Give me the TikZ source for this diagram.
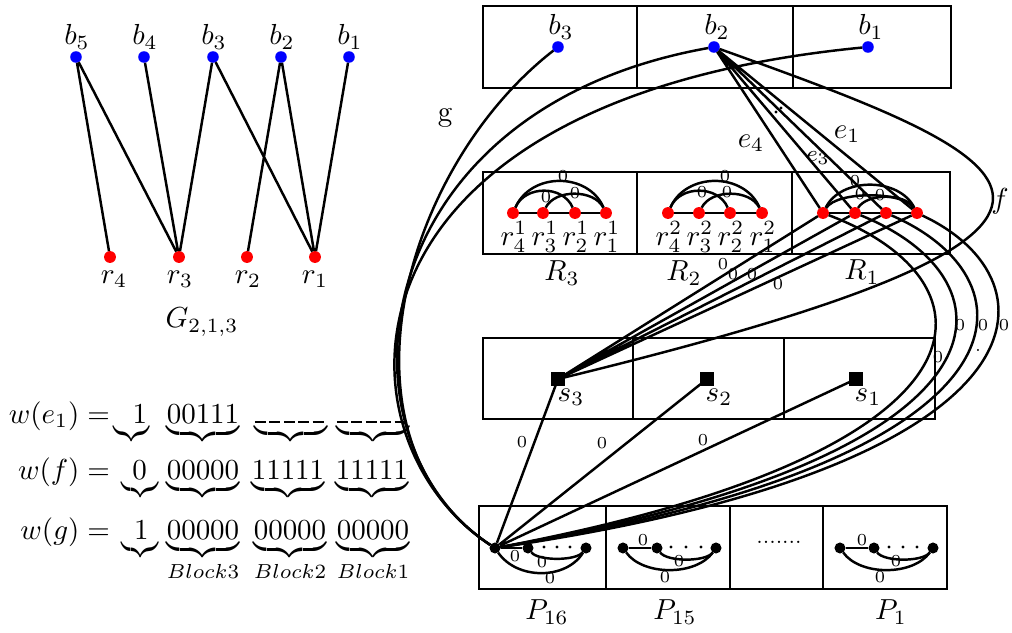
\documentclass[tikz,border=0pt]{standalone}
\usepackage{graphicx}
\newcommand{\dsh}{\rule{0.38em}{0.07em}\hspace{0.12em}}
\newcommand{\shortbrace}[2]{\rlap{\hspace{#1}$#2$}\scalebox{0.7}[1]{$\underbrace{\hspace{1.8em}}$}}
\begin{document}
\begin{tikzpicture}[x=0.345pt,y=-0.345pt,
  every node/.style={font=\fontsize{10}{12}\selectfont, inner sep=0pt, outer sep=0pt},
  ln/.style={line width=0.85pt},
  boxline/.style={line width=0.85pt},
  bdot/.style={circle, fill=blue, minimum size=4pt},
  rdot/.style={circle, fill=red, minimum size=4.1pt},
  kdot/.style={circle, fill=black, minimum size=3.8pt},
  sq/.style={rectangle, fill=black, minimum size=4.5pt},
  zl/.style={font=\fontsize{5.8}{7}\selectfont},
  smalldot/.style={circle, fill=black, minimum size=1.2pt},
]
\useasboundingbox (0,0) rectangle (1012,633);

% ---------------- left graph G_{2,1,3}
\node[bdot] (b5) at (76,57) {};
\node[bdot] (b4) at (144,57) {};
\node[bdot] (b3) at (213,57) {};
\node[bdot] (b2) at (281,57) {};
\node[bdot] (b1) at (349,57) {};
\node[rdot] (r4) at (110,257) {};
\node[rdot] (r3) at (179,257) {};
\node[rdot] (r2) at (247,257) {};
\node[rdot] (r1) at (315,257) {};
\node (lb5) at (77,37) {$b_5$};
\node (lb4) at (145,37) {$b_4$};
\node (lb3) at (214,37) {$b_3$};
\node (lb2) at (282,37) {$b_2$};
\node (lb1) at (350,37) {$b_1$};
\node (lr4) at (114,279) {$r_4$};
\node (lr3) at (180,279) {$r_3$};
\node (lr2) at (248,279) {$r_2$};
\node (lr1) at (315,279) {$r_1$};
\node (G) at (202,322) {$G_{2,1,3}$};
\draw[ln] (b5)--(r4) (b5)--(r3) (b4)--(r3) (b3)--(r3) (b3)--(r1) (b2)--(r2) (b2)--(r1) (b1)--(r1);

% ---------------- weights
\node[anchor=base east] (w1) at (110,423) {$w(e_1) =$};
\node[anchor=base west] (w1a) at (113,423) {\shortbrace{0.68em}{1}};
\node[anchor=base] (w1b) at (203,423) {$\underbrace{00111}$};
\node[anchor=base] (w1c) at (291,423) {$\underbrace{\mbox{\dsh\dsh\dsh\dsh\dsh}}$};
\node[anchor=base] (w1d) at (373,423) {$\underbrace{\mbox{\dsh\dsh\dsh\dsh\dsh}}$};
\node[anchor=base east] (w2) at (110,479) {$w(f) =$};
\node[anchor=base west] (w2a) at (122,479) {\shortbrace{0.36em}{0}};
\node[anchor=base] (w2b) at (203,479) {$\underbrace{00000}$};
\node[anchor=base] (w2c) at (288,479) {$\underbrace{11111}$};
\node[anchor=base] (w2d) at (372,479) {$\underbrace{11111}$};
\node[anchor=base east] (w3) at (110,539) {$w(g) =$};
\node[anchor=base west] (w3a) at (122,539) {\shortbrace{0.42em}{1}};
\node[anchor=base] (w3b) at (203,539) {$\underbrace{00000}_{Block3}$};
\node[anchor=base] (w3c) at (290,539) {$\underbrace{00000}_{Block2}$};
\node[anchor=base] (w3d) at (373,539) {$\underbrace{00000}_{Block1}$};

% ---------------- boxes
\draw[boxline] (483,6) rectangle (951,88) (637,6)--(637,88) (793,6)--(793,88);
\draw[boxline] (483,172) rectangle (950,254) (637,172)--(637,254) (792,172)--(792,254);
\draw[boxline] (483,338) rectangle (935,419) (633,338)--(633,419) (784,338)--(784,419);
\draw[boxline] (479,506) rectangle (947,589) (606,506)--(606,589) (730,506)--(730,589) (823,506)--(823,589);

% top b nodes
\node[bdot] (t3) at (558,47) {};
\node[bdot] (t2) at (714,47) {};
\node[bdot] (t1) at (868,47) {};
\node (lt3) at (561,27) {$b_3$};
\node (lt2) at (717,27) {$b_2$};
\node (lt1) at (871,27) {$b_1$};

% R nodes
\node[rdot] (ra4) at (513,213) {};
\node[rdot] (ra3) at (543,213) {};
\node[rdot] (ra2) at (575,213) {};
\node[rdot] (ra1) at (606,213) {};
\node[rdot] (rb4) at (668,213) {};
\node[rdot] (rb3) at (699,213) {};
\node[rdot] (rb2) at (730,213) {};
\node[rdot] (rb1) at (762,213) {};
\node[rdot] (rc4) at (823,213) {};
\node[rdot] (rc3) at (855,213) {};
\node[rdot] (rc2) at (886,213) {};
\node[rdot] (rc1) at (917,213) {};
\node (la4) at (514,237) {$r^1_4$};
\node (la3) at (545,237) {$r^1_3$};
\node (la2) at (576,237) {$r^1_2$};
\node (la1) at (607,237) {$r^1_1$};
\node (lb4x) at (669,237) {$r^2_4$};
\node (lb3x) at (700,237) {$r^2_3$};
\node (lb2x) at (731,237) {$r^2_2$};
\node (lb1x) at (763,237) {$r^2_1$};
\node (lR3) at (562,273) {$R_3$};
\node (lR2) at (684,273) {$R_2$};
\node (lR1) at (862,272) {$R_1$};

% arcs inside R boxes
\draw[ln] (ra4)--(ra3)--(ra2)--(ra1);
\draw[ln] (ra4) .. controls +(18,-41) and +(-18,-41) .. (ra1);
\draw[ln] (ra4) .. controls +(12,-28) and +(-12,-28) .. (ra2);
\draw[ln] (ra3) .. controls +(12,-24) and +(-12,-24) .. (ra1);
\draw[ln] (rb4)--(rb3)--(rb2)--(rb1);
\draw[ln] (rb4) .. controls +(18,-41) and +(-18,-41) .. (rb1);
\draw[ln] (rb4) .. controls +(12,-28) and +(-12,-28) .. (rb2);
\draw[ln] (rb3) .. controls +(12,-24) and +(-12,-24) .. (rb1);
\draw[ln] (rc4)--(rc3)--(rc2)--(rc1);
\draw[ln] (rc4) .. controls +(18,-36) and +(-18,-36) .. (rc1);
\draw[ln] (rc4) .. controls +(14,-22) and +(-14,-22) .. (rc1);
\draw[ln] (rc3) .. controls +(12,-20) and +(-12,-20) .. (rc1);
\node[zl] (za1) at (563,176) {0};
\node[zl] (za2) at (546,197) {0};
\node[zl] (za3) at (575,193) {0};
\node[zl] (zb1) at (725,176) {0};
\node[zl] (zb2) at (702,192) {0};
\node[zl] (zb3) at (727,192) {0};
\node[zl] (zc1) at (855,181) {0};
\node[zl] (zc2) at (860,194) {0};
\node[zl] (zc3) at (880,195) {0};

% S nodes
\node[sq] (s3) at (558,379) {};
\node[sq] (s2) at (707,379) {};
\node[sq] (s1) at (856,379) {};
\node (ls3) at (571,397) {$s_3$};
\node (ls2) at (719,397) {$s_2$};
\node (ls1) at (868,397) {$s_1$};

% P nodes
\node[kdot] (p16a) at (495,548) {};
\node[kdot] (p16b) at (528,548) {};
\node[kdot] (p16c) at (586,548) {};
\node[kdot] (p15a) at (623,548) {};
\node[kdot] (p15b) at (657,548) {};
\node[kdot] (p15c) at (716,548) {};
\node[kdot] (p1a) at (840,548) {};
\node[kdot] (p1b) at (874,548) {};
\node[kdot] (p1c) at (933,548) {};
\draw[ln] (p16a)--(p16b);
\draw[ln] (p16b) .. controls +(10,13) and +(-10,13) .. (p16c);
\draw[ln] (p16a) .. controls +(22,32) and +(-20,32) .. (p16c);
\draw[ln] (p15a)--(p15b);
\draw[ln] (p15b) .. controls +(10,14) and +(-10,14) .. (p15c);
\draw[ln] (p15a) .. controls +(20,28) and +(-20,28) .. (p15c);
\draw[ln] (p1a)--(p1b);
\draw[ln] (p1b) .. controls +(10,14) and +(-10,14) .. (p1c);
\draw[ln] (p1a) .. controls +(20,28) and +(-20,28) .. (p1c);
\foreach \x/\n in {544/a,557/b,570/c,671/d,686/e,701/f,889/g,903/h,917/i}
  \node[smalldot] (pd\n) at (\x,547) {};
\node[zl] (zp1) at (515,556) {0};
\node[zl] (zp2) at (542,562) {0};
\node[zl] (zp3) at (550,578) {0};
\node[zl] (zp4) at (643,540) {0};
\node[zl] (zp5) at (679,561) {0};
\node[zl] (zp6) at (665,577) {0};
\node[zl] (zp7) at (862,540) {0};
\node[zl] (zp8) at (896,561) {0};
\node[zl] (zp9) at (880,577) {0};
\node[font=\fontsize{6.9}{8}\selectfont] (mdots) at (779,542) {.......};
\node (lP16) at (547,612) {$P_{16}$};
\node (lP15) at (675,612) {$P_{15}$};
\node (lP1) at (891,612) {$P_1$};

% edges b2 -> R1
\draw[ln] (t2)--(rc4) (t2)--(rc3) (t2)--(rc2) (t2)--(rc1);
\node (le4) at (751,143) {$e_4$};
\node[font=\fontsize{8}{10}\selectfont] (le3) at (818,158) {$e_3$};
\node (le1) at (847,134) {$e_1$};
\node[smalldot] (ed1) at (776,112) {};
\node[smalldot] (ed2) at (781,108) {};

% R1 -> s3
\draw[ln] (rc4)--(s3) (rc3)--(s3) (rc2)--(s3) (rc1)--(s3);
\node[zl] (zs1) at (723,264) {0};
\node[zl] (zs2) at (733,274) {0};
\node[zl] (zs3) at (752,274) {0};
\node[zl] (zs4) at (778,284) {0};

% R1 -> P16 curves
\draw[ln] (rc4) .. controls (1000,280) and (1015,450) .. (p16a);
\draw[ln] (rc3) .. controls (1020,280) and (1030,455) .. (p16a);
\draw[ln] (rc2) .. controls (1040,280) and (1045,460) .. (p16a);
\draw[ln] (rc1) .. controls (1060,280) and (1060,465) .. (p16a);
\node[zl] (zr1) at (960,325) {0};
\node[zl] (zr2) at (983,325) {0};
\node[zl] (zr3) at (1004,325) {0};
\node[zl] (zr4) at (938,357) {0};
\node[zl] (zr5) at (978,350) {.};

% f curve b2 -> s3
\draw[ln] (t2) .. controls (1030,160) and (1190,225) .. (s3);
\node (lf) at (1000,201) {$f$};

% g curves
\draw[ln] (t3) .. controls (400,170) and (330,440) .. (p16a);
\draw[ln] (t2) .. controls (360,110) and (330,440) .. (p16a);
\draw[ln] (t1) .. controls (320,100) and (330,440) .. (p16a);
\node (lg) at (445,118) {g};

% s -> P16
\draw[ln] (s3)--(p16a) (s2)--(p16a) (s1)--(p16a);
\node[zl] (zq1) at (522,442) {0};
\node[zl] (zq2) at (602,443) {0};
\node[zl] (zq3) at (703,440) {0};
\end{tikzpicture}
\end{document}
